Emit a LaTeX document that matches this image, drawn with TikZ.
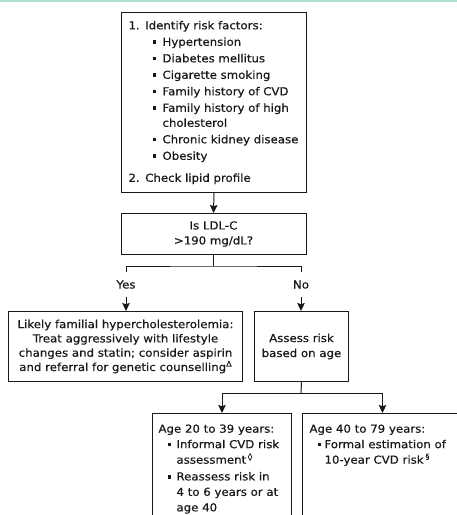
\documentclass[tikz,border=0pt]{standalone}
\usepackage{fontspec}
\setmainfont{DejaVu Sans}[FakeBold=0.5,FakeStretch=1.07]
\usetikzlibrary{arrows.meta}
\definecolor{mint}{RGB}{178,226,210}
\definecolor{ink}{RGB}{25,25,25}
\newcommand{\bul}[1]{\makebox[#1][l]{\rule[1.8pt]{3.6pt}{3.6pt}}}
\newcommand{\supmark}[1]{\raisebox{4.5pt}{\fontsize{7.5}{7.5}\selectfont #1}}
\begin{document}
\begin{tikzpicture}[x=1pt,y=-1pt,
  box/.style={draw=ink, line width=1pt, inner sep=0pt, font=\fontsize{11}{14.3}\selectfont, text=ink},
  arr/.style={draw=ink, line width=1pt, -{Stealth[length=8pt,width=7.5pt,inset=1.2pt]}},
  lne/.style={draw=ink, line width=1pt},
  lbl/.style={inner sep=0pt, minimum height=25pt, text height=8pt, text depth=0pt, font=\fontsize{11}{12}\selectfont, text=ink}]
\clip (0,0) rectangle (457,515);
\fill[mint] (0,0) rectangle (457,1.6);

\node[box, anchor=north west, align=left, text width=171pt, inner xsep=7pt, minimum height=180pt, font=\fontsize{11}{16.5}\selectfont] (risk) at (121,12) {1. Identify risk factors:\\
\hspace*{24pt}\bul{10pt}Hypertension\\
\hspace*{24pt}\bul{10pt}Diabetes mellitus\\
\hspace*{24pt}\bul{10pt}Cigarette smoking\\
\hspace*{24pt}\bul{10pt}\mbox{Family history of CVD}\\
\hspace*{24pt}\bul{10pt}\mbox{Family history of high}\\[-1.5pt]
\hspace*{34pt}cholesterol\\
\hspace*{24pt}\bul{10pt}\mbox{Chronic kidney disease}\\
\hspace*{24pt}\bul{10pt}Obesity\\[5.5pt]
2. Check lipid profile};

\node[box, anchor=north, minimum width=185pt, minimum height=41pt, align=center, font=\fontsize{11}{15}\selectfont] (ldl) at (213.5,213) {Is LDL-C\\>190 mg/dL?};
\draw[arr] (risk.south) -- (ldl.north);

\node[lbl] (yes) at (126,284.5) {Yes};
\node[lbl] (no) at (301,284.5) {No};
\coordinate (j1) at (213.5,266);
\draw[lne] (ldl.south) -- (j1);
\draw[lne] (yes.north) |- (j1) -| (no.north);

\node[box, anchor=north west, minimum width=234pt, minimum height=70pt, align=center] (fh) at (8,311) {Likely familial hypercholesterolemia:\\Treat aggressively with lifestyle\\changes and statin; consider aspirin\\and referral for genetic counselling\supmark{Δ}};
\node[box, anchor=north west, minimum width=94pt, minimum height=70pt, align=center, font=\fontsize{11}{15}\selectfont] (assess) at (254,311) {Assess risk\\based on age};
\draw[arr] (yes.south) -- (yes.south |- fh.north);
\draw[arr] (no.south) -- (no.south |- assess.north);

\node[box, anchor=north west, inner xsep=6pt, inner ysep=11pt, font=\fontsize{11}{15.5}\selectfont] (young) at (152,413) {\parbox[t][110pt][t]{127pt}{Age 20 to 39 years:\\
\hspace*{9pt}\bul{9pt}Informal CVD risk\\
\hspace*{18pt}assessment\,\supmark{◊}\\[1.2pt]
\hspace*{9pt}\bul{9pt}Reassess risk in\\
\hspace*{18pt}4 to 6 years or at\\
\hspace*{18pt}age 40}};
\node[box, anchor=north west, inner xsep=7pt, inner ysep=11pt, font=\fontsize{11}{15.5}\selectfont] (old) at (302,413) {\parbox[t][110pt][t]{146pt}{Age 40 to 79 years:\\
\hspace*{8pt}\bul{7pt}Formal estimation of\\
\hspace*{15pt}10-year CVD risk\,\supmark{§}}};
\coordinate (j2) at (301,393);
\draw[lne] (assess.south) -- (j2);
\draw[arr] (j2) -| (young.north);
\draw[arr] (j2) -| (old.north);
\end{tikzpicture}
\end{document}
